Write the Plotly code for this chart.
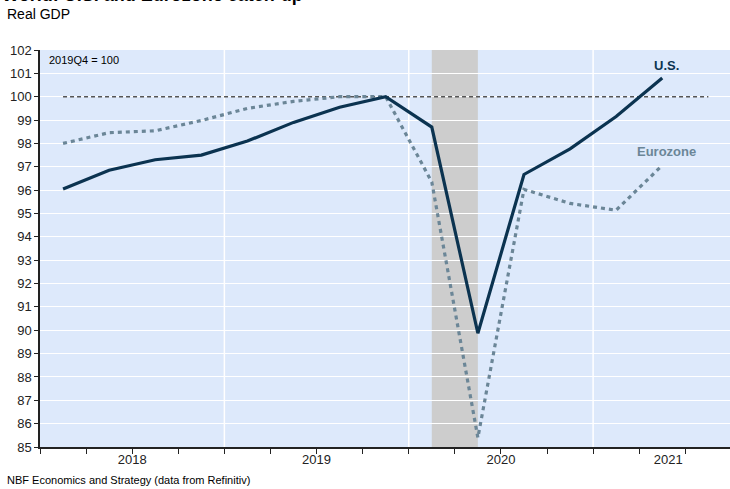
import plotly.graph_objects as go

quarters = ["2018Q1", "2018Q2", "2018Q3", "2018Q4", "2019Q1", "2019Q2", "2019Q3",
            "2019Q4", "2020Q1", "2020Q2", "2020Q3", "2020Q4", "2021Q1", "2021Q2"]
us = [96.05, 96.85, 97.3, 97.5, 98.1, 98.9, 99.55, 100.0, 98.7, 89.87, 96.67, 97.77, 99.15, 100.8]
eurozone = [98.0, 98.46, 98.54, 98.98, 99.5, 99.8, 100.0, 100.0, 96.35, 85.4, 96.03, 95.43, 95.14, 97.06]
ref_quarters = quarters + ["2021Q3"]
ref_level = [100.0] * len(ref_quarters)
years = ["2018", "2019", "2020", "2021"]
recession = ("2020Q1", "2020Q2")

xi = {q: i for i, q in enumerate(ref_quarters)}
x_us = [xi[q] for q in quarters]
x_ref = [xi[q] for q in ref_quarters]

NAVY = "#0b3350"
GREYBLUE = "#6b8697"

fig = go.Figure()
fig.add_trace(go.Scatter(x=x_ref, y=ref_level, mode="lines",
                         line=dict(color="#555555", width=1.5, dash="4px,3px"),
                         hoverinfo="skip", showlegend=False))
fig.add_trace(go.Scatter(x=x_us, y=eurozone, mode="lines", name="Eurozone",
                         line=dict(color=GREYBLUE, width=3.2, dash="4px,4px"),
                         showlegend=False))
fig.add_trace(go.Scatter(x=x_us, y=us, mode="lines", name="U.S.",
                         line=dict(color=NAVY, width=3.2), showlegend=False))

# recession shading
fig.add_shape(type="rect", xref="x", yref="paper", x0=xi[recession[0]], x1=xi[recession[1]],
              y0=0, y1=1, fillcolor="#cdcdcd", line_width=0, layer="below")
# vertical year gridlines
for k in range(1, len(years)):
    xv = 4 * k - 0.5
    fig.add_shape(type="line", xref="x", yref="paper", x0=xv, x1=xv, y0=0, y1=1,
                  line=dict(color="white", width=1.5), layer="below")

year_label_pos = [1.5, 5.5, 9.5, 13.13]

fig.update_layout(
    width=730, height=489,
    margin=dict(l=40, r=0, t=50, b=42),
    paper_bgcolor="white", plot_bgcolor="#dde9fb",
    font=dict(family="Liberation Sans, Arial, sans-serif", size=13, color="#222222"),
    xaxis=dict(range=[-0.5, 14.47], tickmode="array", tickvals=year_label_pos, ticktext=years,
               ticks="", showgrid=False, zeroline=False, showline=True, linecolor="#222222",
               linewidth=1.5, tickfont=dict(size=13, color="#222222"),
               minor=dict(ticks="outside", tick0=-0.5, dtick=1, ticklen=5, tickcolor="#222222",
                          tickwidth=1, showgrid=False)),
    yaxis=dict(range=[85, 102], dtick=1, tick0=85, showgrid=True, gridcolor="white", gridwidth=1.4,
               zeroline=False, showline=True, linecolor="#222222", linewidth=1.5,
               ticks="outside", ticklen=4, tickcolor="#222222", tickfont=dict(size=13, color="#222222")),
)

fig.add_annotation(text="<b>World: U.S. and Eurozone catch-up</b>", xref="paper", yref="paper",
                   x=-40/690, y=1 + 43/397, xanchor="left", yanchor="bottom", showarrow=False,
                   font=dict(size=18, color="black"))
fig.add_annotation(text="Real GDP", xref="paper", yref="paper", x=-35/690, y=1 + 36/397,
                   xanchor="left", yanchor="middle", showarrow=False,
                   font=dict(size=14, color="black"))
fig.add_annotation(text="2019Q4 = 100", xref="paper", yref="paper", x=7/690, y=1 - 10/397,
                   xanchor="left", yanchor="middle", showarrow=False,
                   font=dict(size=11, color="black"))
fig.add_annotation(text="<b>U.S.</b>", xref="x", yref="y", x=xi["2021Q2"] + 0.1, y=us[-1] + 0.15,
                   xanchor="center", yanchor="bottom", showarrow=False,
                   font=dict(size=13, color=NAVY))
fig.add_annotation(text="<b>Eurozone</b>", xref="x", yref="y", x=xi["2021Q2"] + 0.1, y=eurozone[-1] + 0.2,
                   xanchor="center", yanchor="bottom", showarrow=False,
                   font=dict(size=13, color=GREYBLUE))
fig.add_annotation(text="NBF Economics and Strategy (data from Refinitiv)", xref="paper", yref="paper",
                   x=-35/690, y=-33/397, xanchor="left", yanchor="middle", showarrow=False,
                   font=dict(size=11, color="black"))

fig.write_html("out.html")
